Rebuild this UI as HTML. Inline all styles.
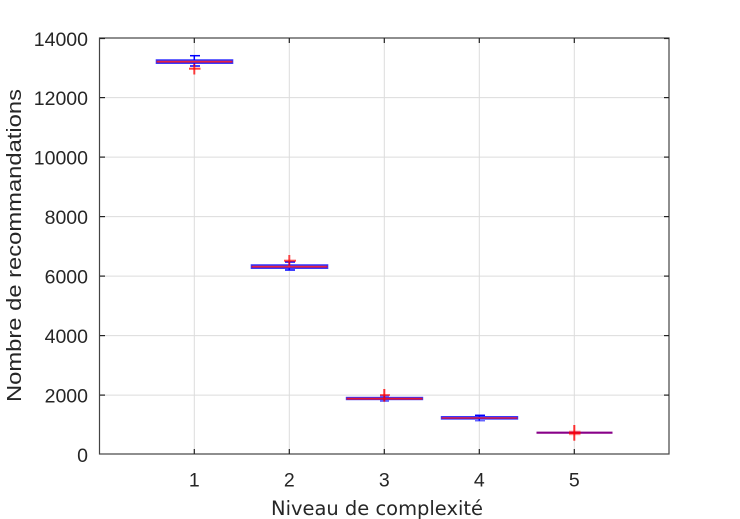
<!DOCTYPE html>
<html><head><meta charset="utf-8"><style>
html,body{margin:0;padding:0;background:#fff;}
svg{display:block;}
text{font-family:"Liberation Sans","DejaVu Sans",sans-serif;fill:#262626;}
</style></head><body>
<svg width="740" height="519" viewBox="0 0 740 519" xmlns="http://www.w3.org/2000/svg">
<rect x="0" y="0" width="740" height="519" fill="#fff"/>
<!-- grid -->
<g stroke="#dcdcdc" stroke-width="1">
<line x1="100" y1="97.6" x2="669" y2="97.6"/>
<line x1="100" y1="157.1" x2="669" y2="157.1"/>
<line x1="100" y1="216.6" x2="669" y2="216.6"/>
<line x1="100" y1="276.1" x2="669" y2="276.1"/>
<line x1="100" y1="335.6" x2="669" y2="335.6"/>
<line x1="100" y1="395.1" x2="669" y2="395.1"/>
<line x1="194.3" y1="38" x2="194.3" y2="454"/>
<line x1="289.3" y1="38" x2="289.3" y2="454"/>
<line x1="384.3" y1="38" x2="384.3" y2="454"/>
<line x1="479.3" y1="38" x2="479.3" y2="454"/>
<line x1="574.3" y1="38" x2="574.3" y2="454"/>
</g>
<!-- axes box -->
<rect x="99.5" y="38" width="569.5" height="416" fill="none" stroke="#444" stroke-width="1.2"/>
<!-- ticks -->
<g stroke="#222" stroke-width="1.2">
<line x1="100" y1="38.5" x2="105" y2="38.5"/><line x1="669" y1="38.5" x2="664" y2="38.5"/>
<line x1="100" y1="97.6" x2="105" y2="97.6"/><line x1="669" y1="97.6" x2="664" y2="97.6"/>
<line x1="100" y1="157.1" x2="105" y2="157.1"/><line x1="669" y1="157.1" x2="664" y2="157.1"/>
<line x1="100" y1="216.6" x2="105" y2="216.6"/><line x1="669" y1="216.6" x2="664" y2="216.6"/>
<line x1="100" y1="276.1" x2="105" y2="276.1"/><line x1="669" y1="276.1" x2="664" y2="276.1"/>
<line x1="100" y1="335.6" x2="105" y2="335.6"/><line x1="669" y1="335.6" x2="664" y2="335.6"/>
<line x1="100" y1="395.1" x2="105" y2="395.1"/><line x1="669" y1="395.1" x2="664" y2="395.1"/>
<line x1="194.3" y1="454" x2="194.3" y2="449"/><line x1="194.3" y1="38" x2="194.3" y2="43"/>
<line x1="289.3" y1="454" x2="289.3" y2="449"/><line x1="289.3" y1="38" x2="289.3" y2="43"/>
<line x1="384.3" y1="454" x2="384.3" y2="449"/><line x1="384.3" y1="38" x2="384.3" y2="43"/>
<line x1="479.3" y1="454" x2="479.3" y2="449"/><line x1="479.3" y1="38" x2="479.3" y2="43"/>
<line x1="574.3" y1="454" x2="574.3" y2="449"/><line x1="574.3" y1="38" x2="574.3" y2="43"/>
</g>
<!-- y tick labels -->
<g font-size="19.5" text-anchor="end">
<text x="88" y="46">14000</text>
<text x="88" y="105">12000</text>
<text x="88" y="164.5">10000</text>
<text x="88" y="224">8000</text>
<text x="88" y="283.5">6000</text>
<text x="88" y="343">4000</text>
<text x="88" y="402.5">2000</text>
<text x="88" y="462">0</text>
</g>
<!-- x tick labels -->
<g font-size="19.5" text-anchor="middle">
<text x="194.3" y="486.5">1</text>
<text x="289.3" y="486.5">2</text>
<text x="384.3" y="486.5">3</text>
<text x="479.3" y="486.5">4</text>
<text x="574.3" y="486.5">5</text>
</g>
<text x="271" y="515" font-size="19.5" textLength="212" lengthAdjust="spacingAndGlyphs" style="font-family:'DejaVu Sans','Liberation Sans',sans-serif">Niveau de complexité</text>
<text transform="translate(21,402) rotate(-90)" x="0" y="0" font-size="20" textLength="313" lengthAdjust="spacingAndGlyphs">Nombre de recommandations</text>

<!-- Box 1 -->
<g>
<line x1="194.3" y1="55.7" x2="194.3" y2="66" stroke="#0000ff" stroke-width="1.5"/>
<line x1="190" y1="55.7" x2="200" y2="55.7" stroke="#0000ff" stroke-width="1.5"/>
<line x1="190" y1="66" x2="200" y2="66" stroke="#0000ff" stroke-width="1.5"/>
<rect x="156.5" y="60" width="76" height="3.2" fill="#9999ff" stroke="#0000ff" stroke-opacity="0.75" stroke-width="1.6"/>
<line x1="156.5" y1="61.7" x2="232.5" y2="61.7" stroke="#ff0000" stroke-opacity="0.75" stroke-width="1.8"/>
<line x1="189" y1="68.7" x2="200.5" y2="68.7" stroke="#ff0000" stroke-opacity="0.75" stroke-width="2"/>
<line x1="194.3" y1="64" x2="194.3" y2="74.5" stroke="#ff0000" stroke-opacity="0.75" stroke-width="2"/>
</g>
<!-- Box 2 -->
<g>
<line x1="289.3" y1="262" x2="289.3" y2="270" stroke="#0000ff" stroke-width="1.5"/>
<line x1="285" y1="262" x2="295" y2="262" stroke="#0000ff" stroke-width="1.5"/>
<line x1="285" y1="270" x2="295" y2="270" stroke="#0000ff" stroke-width="1.5"/>
<rect x="251.5" y="265" width="76" height="3.2" fill="#9999ff" stroke="#0000ff" stroke-opacity="0.75" stroke-width="1.6"/>
<line x1="251.5" y1="266.7" x2="327.5" y2="266.7" stroke="#ff0000" stroke-opacity="0.75" stroke-width="1.8"/>
<line x1="284" y1="260.7" x2="296" y2="260.7" stroke="#ff0000" stroke-opacity="0.7" stroke-width="2"/>
<line x1="289.3" y1="255" x2="289.3" y2="266" stroke="#ff0000" stroke-opacity="0.7" stroke-width="2"/>
</g>
<!-- Box 3 -->
<g>
<line x1="384.3" y1="396" x2="384.3" y2="401" stroke="#0000ff" stroke-width="1.5"/>
<line x1="380" y1="396" x2="389" y2="396" stroke="#0000ff" stroke-opacity="0.7" stroke-width="1.5"/>
<line x1="380" y1="401" x2="389" y2="401" stroke="#0000ff" stroke-opacity="0.7" stroke-width="1.5"/>
<rect x="346.5" y="397.5" width="76" height="2" fill="#9999ff" stroke="#0000ff" stroke-opacity="0.75" stroke-width="1.4"/>
<line x1="346.5" y1="398.7" x2="422.5" y2="398.7" stroke="#ff0000" stroke-opacity="0.8" stroke-width="1.8"/>
<line x1="380" y1="395" x2="390" y2="395" stroke="#ff0000" stroke-opacity="0.6" stroke-width="2"/>
<line x1="384.3" y1="389" x2="384.3" y2="401.7" stroke="#ff0000" stroke-opacity="0.8" stroke-width="2"/>
</g>
<!-- Box 4 -->
<g>
<line x1="479.3" y1="415.3" x2="479.3" y2="420.7" stroke="#0000ff" stroke-width="1.5"/>
<line x1="475" y1="415.3" x2="485" y2="415.3" stroke="#0000ff" stroke-width="1.5"/>
<line x1="475" y1="420.7" x2="485" y2="420.7" stroke="#0000ff" stroke-opacity="0.6" stroke-width="1.5"/>
<rect x="441.5" y="416.7" width="76" height="2.3" fill="#9999ff" stroke="#0000ff" stroke-opacity="0.75" stroke-width="1.4"/>
<line x1="441.5" y1="418" x2="517.5" y2="418" stroke="#ff0000" stroke-opacity="0.75" stroke-width="1.6"/>
</g>
<!-- Box 5 -->
<g>
<line x1="536.5" y1="432.7" x2="612.5" y2="432.7" stroke="#880088" stroke-width="2.2"/>
<rect x="569" y="430.7" width="11.5" height="4.5" fill="#ff0000" fill-opacity="0.45"/>
<line x1="574.3" y1="425" x2="574.3" y2="440.7" stroke="#ff0000" stroke-opacity="0.8" stroke-width="2"/>
<line x1="569" y1="433" x2="580.5" y2="433" stroke="#ff0000" stroke-opacity="0.6" stroke-width="2"/>
</g>
</svg>
</body></html>
